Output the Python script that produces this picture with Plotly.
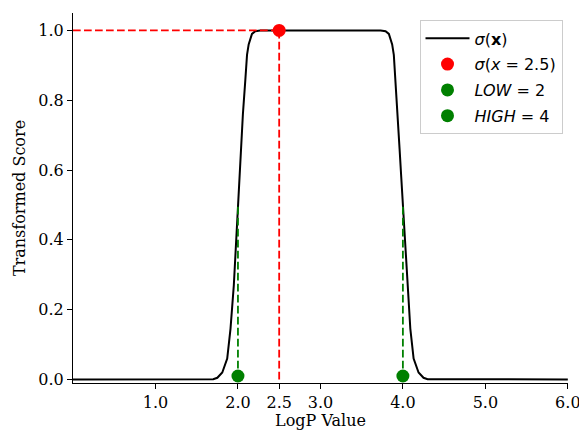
import plotly.graph_objects as go

# Curve values
curve_x = [0.00, 1.70, 1.75, 1.81, 1.87, 1.91, 1.95, 1.99, 2.00, 2.02, 2.04, 2.06, 2.09, 2.11,
           2.13, 2.17, 2.21, 2.27, 3.73, 3.79, 3.83, 3.87, 3.89, 3.91, 3.94, 3.96, 3.98,
           4.00, 4.01, 4.05, 4.09, 4.13, 4.19, 4.25, 4.30, 6.00]
curve_y = [0.000, 0.001, 0.005, 0.020, 0.060, 0.146, 0.270, 0.460, 0.500, 0.580, 0.660, 0.760,
           0.860, 0.930, 0.960, 0.990, 0.998, 1.000, 1.000, 0.998, 0.990, 0.960, 0.930, 0.860,
           0.760, 0.660, 0.580, 0.500, 0.460, 0.270, 0.146, 0.060, 0.020, 0.005, 0.001, 0.000]

eval_x, eval_y = 2.5, 1.0
low_x, high_x = 2.0, 4.0
marker_y = 0.01
half_y = 0.5

x_ticks = [1.0, 2.0, 2.5, 3.0, 4.0, 5.0, 6.0]
y_ticks = [0.0, 0.2, 0.4, 0.6, 0.8, 1.0]

dash = "7.7px,3.3px"
fig = go.Figure()

fig.add_trace(go.Scatter(x=curve_x, y=curve_y, mode="lines",
                         line=dict(color="black", width=2),
                         name="<i>σ</i>(<b>x</b>)", legendgroup="a"))
# red guide lines
fig.add_trace(go.Scatter(x=[0, eval_x], y=[eval_y, eval_y], mode="lines",
                         line=dict(color="red", width=1.8, dash=dash), showlegend=False))
fig.add_trace(go.Scatter(x=[eval_x, eval_x], y=[0, eval_y], mode="lines",
                         line=dict(color="red", width=1.8, dash=dash), showlegend=False))
# green guide lines
fig.add_trace(go.Scatter(x=[low_x, low_x], y=[0, half_y], mode="lines",
                         line=dict(color="green", width=1.8, dash=dash), showlegend=False))
fig.add_trace(go.Scatter(x=[high_x, high_x], y=[0, half_y], mode="lines",
                         line=dict(color="green", width=1.8, dash=dash), showlegend=False))

fig.add_trace(go.Scatter(x=[eval_x], y=[eval_y], mode="markers",
                         marker=dict(color="red", size=13),
                         name="<i>σ</i>(<i>x</i> = 2.5)", legendgroup="b"))
fig.add_trace(go.Scatter(x=[low_x], y=[marker_y], mode="markers",
                         marker=dict(color="green", size=13),
                         name="<i>LOW</i> = 2", legendgroup="c"))
fig.add_trace(go.Scatter(x=[high_x], y=[marker_y], mode="markers",
                         marker=dict(color="green", size=13),
                         name="<i>HIGH</i> = 4", legendgroup="d"))

serif = "DejaVu Serif"
fig.update_layout(
    width=579, height=430,
    margin=dict(l=73, r=11, t=13, b=47),
    paper_bgcolor="white", plot_bgcolor="white",
    font=dict(family=serif, size=16, color="black"),
    showlegend=True,
    legend=dict(x=0.70, y=0.98, xanchor="left", yanchor="top",
                bgcolor="white", bordercolor="#cccccc", borderwidth=1,
                font=dict(family="DejaVu Sans", size=16, color="black"),
                traceorder="grouped", tracegroupgap=2, itemwidth=44),
    xaxis=dict(range=[0, 6.002], tickvals=x_ticks, ticktext=[f"{v:.1f}" for v in x_ticks],
               showgrid=False, zeroline=False, showline=True, linecolor="black",
               linewidth=1, ticks="outside", ticklen=5, tickcolor="black", automargin=False,
               ticklabeloverflow="allow",
               title=dict(text="LogP Value", standoff=10,
                          font=dict(family=serif, size=16))),
    yaxis=dict(range=[-0.01, 1.05], tickvals=y_ticks, ticktext=[f"{v:.1f}" for v in y_ticks],
               showgrid=False, zeroline=False, showline=True, linecolor="black",
               linewidth=1, ticks="outside", ticklen=5, tickcolor="black", automargin=False,
               title=dict(text="Transformed Score", standoff=8,
                          font=dict(family=serif, size=16))),
)

fig.write_html("out.html", config={"displayModeBar": False},
               post_script="document.body.style.margin='0';")
